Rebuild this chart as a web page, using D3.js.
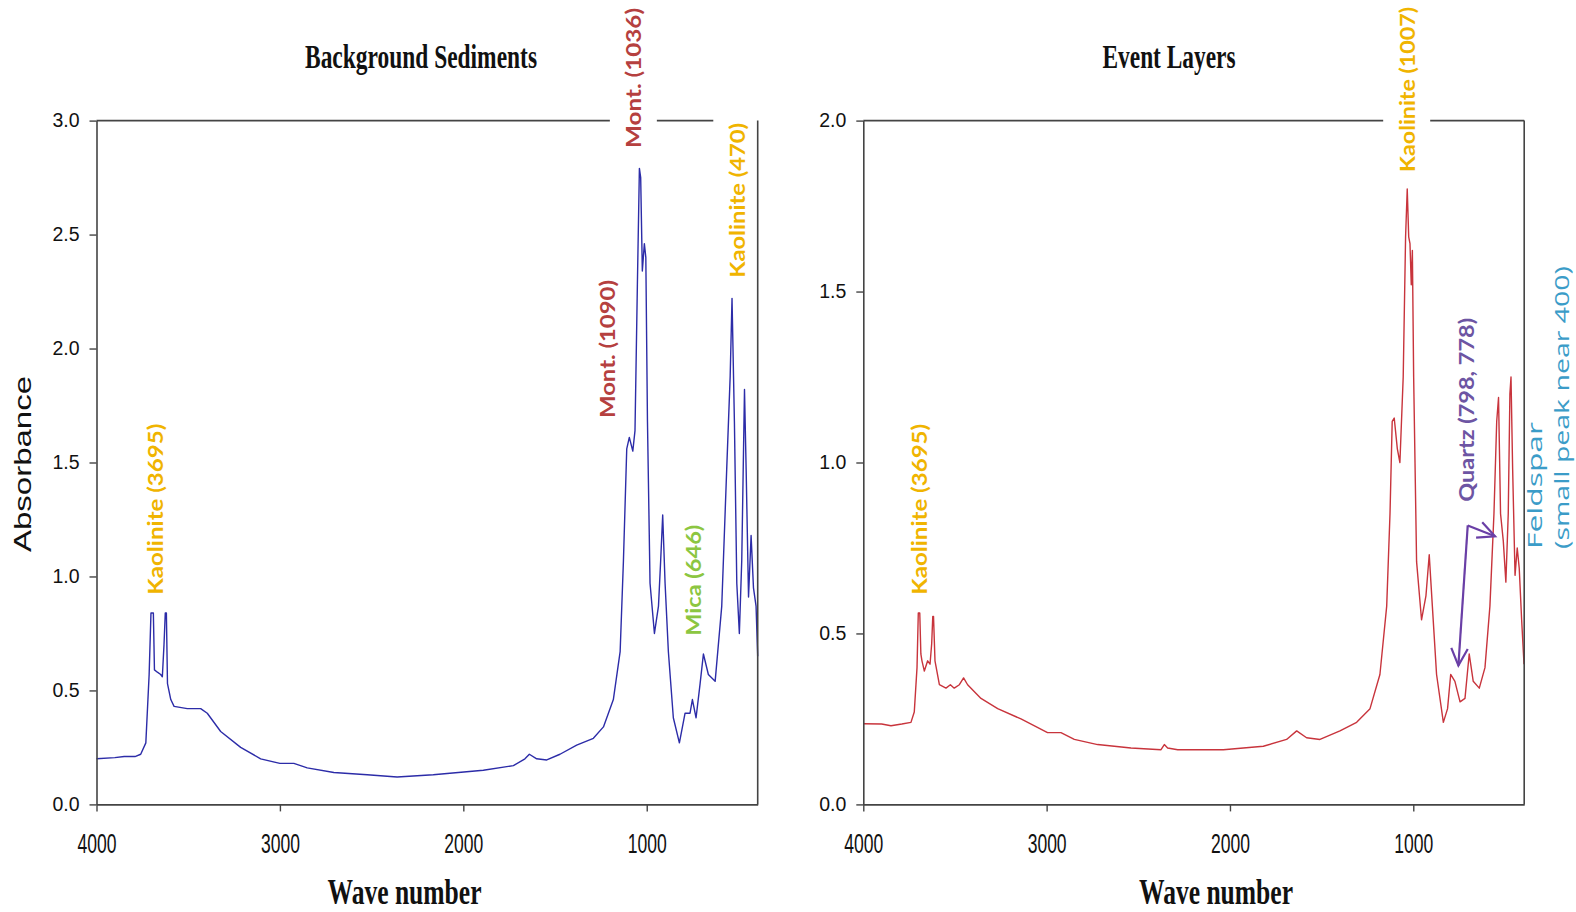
<!DOCTYPE html>
<html>
<head>
<meta charset="utf-8">
<script src="https://cdn.jsdelivr.net/npm/d3@7"></script>
<style>
  body { margin: 0; background: #fff; }
  svg { display: block; }
</style>
</head>
<body>
<div id="chart"></div>
<script>
// spectra: [wave number, absorbance]
const bgSpectrum = [
  [4000, 0.20], [3900, 0.205], [3849, 0.21], [3790, 0.21], [3759, 0.22], [3731, 0.27],
  [3713, 0.57], [3703, 0.84], [3697, 0.84], [3690, 0.84], [3684, 0.59], [3668, 0.58],
  [3650, 0.57], [3641, 0.56], [3632, 0.70], [3625, 0.84], [3619, 0.84], [3613, 0.53],
  [3595, 0.46], [3577, 0.43], [3505, 0.42], [3432, 0.42], [3396, 0.40], [3323, 0.32],
  [3214, 0.25], [3105, 0.20], [3000, 0.18], [2924, 0.18], [2851, 0.16], [2706, 0.14],
  [2524, 0.13], [2361, 0.12], [2164, 0.13], [1891, 0.15], [1727, 0.17], [1664, 0.20],
  [1640, 0.22], [1600, 0.20], [1545, 0.195], [1473, 0.22], [1382, 0.26], [1291, 0.29],
  [1236, 0.34], [1182, 0.46], [1145, 0.67], [1127, 1.07], [1109, 1.56], [1095, 1.61],
  [1076, 1.55], [1064, 1.64], [1051, 2.28], [1040, 2.79], [1033, 2.75], [1024, 2.34],
  [1013, 2.46], [1005, 2.40], [996, 1.68], [982, 0.97], [958, 0.75], [936, 0.87],
  [924, 1.07], [913, 1.27], [900, 0.97], [882, 0.67], [855, 0.38], [822, 0.27],
  [791, 0.40], [764, 0.40], [751, 0.46], [731, 0.38], [709, 0.53], [691, 0.66],
  [664, 0.57], [627, 0.54], [591, 0.87], [564, 1.47], [545, 1.88], [535, 2.22],
  [522, 1.68], [509, 0.97], [495, 0.75], [482, 1.07], [467, 1.82], [458, 1.47],
  [445, 0.91], [431, 1.18], [418, 0.95], [404, 0.87], [395, 0.65]
];

const evSpectrum = [
  [4000, 0.236], [3900, 0.235], [3849, 0.23], [3790, 0.235], [3740, 0.24], [3722, 0.27],
  [3707, 0.40], [3700, 0.56], [3692, 0.56], [3686, 0.44], [3680, 0.42], [3667, 0.39],
  [3649, 0.42], [3636, 0.41], [3627, 0.47], [3621, 0.55], [3617, 0.55], [3609, 0.42],
  [3585, 0.35], [3549, 0.34], [3525, 0.35], [3504, 0.34], [3476, 0.35], [3453, 0.37],
  [3431, 0.35], [3358, 0.31], [3267, 0.28], [3140, 0.25], [2995, 0.21], [2922, 0.21],
  [2849, 0.19], [2722, 0.175], [2540, 0.165], [2376, 0.16], [2358, 0.175], [2340, 0.165],
  [2285, 0.16], [2036, 0.16], [1818, 0.17], [1691, 0.19], [1636, 0.215], [1582, 0.195],
  [1509, 0.19], [1400, 0.215], [1309, 0.24], [1236, 0.28], [1182, 0.38], [1145, 0.58],
  [1127, 0.85], [1115, 1.12], [1104, 1.13], [1087, 1.04], [1073, 1.0], [1055, 1.25],
  [1042, 1.66], [1033, 1.80], [1025, 1.66], [1018, 1.64], [1011, 1.52], [1005, 1.62],
  [998, 1.25], [982, 0.71], [955, 0.54], [931, 0.61], [913, 0.73], [896, 0.58],
  [873, 0.38], [836, 0.24], [813, 0.28], [796, 0.38], [773, 0.36], [745, 0.30],
  [718, 0.31], [695, 0.44], [673, 0.36], [640, 0.34], [609, 0.40], [582, 0.58],
  [560, 0.85], [545, 1.12], [535, 1.19], [524, 0.85], [509, 0.77], [495, 0.65],
  [482, 0.85], [473, 1.20], [467, 1.25], [458, 0.98], [445, 0.67], [433, 0.75],
  [422, 0.69], [409, 0.54], [396, 0.41]
];

const waveTicks = [4000, 3000, 2000, 1000];
const bgAbsTicks = [0, 0.5, 1, 1.5, 2, 2.5, 3];
const evAbsTicks = [0, 0.5, 1, 1.5, 2];

// peak labels: anchored at the lower end of the rotated text
const bgLabels = [
  { text: "Kaolinite (3695)", wave: 3681, abs: 0.92, color: "#f0b400", len: 171 },
  { text: "Mont. (1090)", wave: 1218, abs: 1.695, color: "#b5403f", len: 138 },
  { text: "Mont. (1036)", wave: 1073, abs: 2.88, color: "#b5403f", len: 140, bg: true },
  { text: "Kaolinite (470)", wave: 509, abs: 2.31, color: "#f0b400", len: 155, bg: true },
  { text: "Mica (646)", wave: 746, abs: 0.74, color: "#8cc641", len: 111 }
];
const evLabels = [
  { text: "Kaolinite (3695)", wave: 3695, abs: 0.613, color: "#f0b400", len: 171 },
  { text: "Kaolinite (1007)", wave: 1036, abs: 1.85, color: "#f0b400", len: 165, bg: true },
  { text: "Quartz (798, 778)", wave: 712, abs: 0.885, color: "#6d55a3", len: 184 }
];
const feldsparLines = [
  { text: "Feldspar", wave: 340, abs: 0.747, len: 127 },
  { text: "(small peak near 400)", wave: 193, abs: 0.747, len: 283 }
];
// quartz arrow: corner, then the two tips
const quartzArrow = { from: [703, 0.816], tips: [[754, 0.406], [554, 0.784]] };

const W = 1576, H = 912;
const svg = d3.select("#chart").append("svg").attr("width", W).attr("height", H);

const drawPanel = (p) => {
  const x = d3.scaleLinear().domain([4000, 395]).range(p.xr);
  const y = d3.scaleLinear().domain(p.yd).range([804.4, 120.6]);
  const g = svg.append("g");

  // top frame line (partly hidden by label boxes)
  g.append("line")
    .attr("x1", p.xr[0]).attr("x2", p.xr[1])
    .attr("y1", y(p.yd[1])).attr("y2", y(p.yd[1]))
    .attr("stroke", "#444").attr("stroke-width", 1.6);

  // spectrum
  g.append("path")
    .datum(p.data)
    .attr("fill", "none")
    .attr("stroke", p.color)
    .attr("stroke-width", 1.4)
    .attr("stroke-linejoin", "round")
    .attr("d", d3.line().x(d => x(d[0])).y(d => y(d[1])));

  // rotated peak labels
  p.labels.forEach(l => {
    const lg = g.append("g")
      .attr("transform", `translate(${x(l.wave)},${y(l.abs)}) rotate(-90)`);
    if (l.bg) {
      lg.append("rect")
        .attr("x", -4).attr("y", -23.5)
        .attr("width", l.len + 160).attr("height", 47)
        .attr("fill", "#fff");
    }
    lg.append("text")
      .attr("x", 0).attr("y", 0)
      .attr("dominant-baseline", "central")
      .attr("font-family", "Lato, 'Open Sans', sans-serif")
      .attr("font-weight", 700)
      .attr("font-size", 20)
      .attr("textLength", l.len)
      .attr("lengthAdjust", "spacingAndGlyphs")
      .attr("fill", l.color)
      .text(l.text);
  });

  // axes
  const xAxis = g.append("g")
    .attr("transform", `translate(0,804.4)`)
    .call(d3.axisBottom(x).tickValues(waveTicks).tickFormat(d3.format("d"))
      .tickSize(7).tickSizeOuter(0).tickPadding(22));
  xAxis.selectAll("text")
    .attr("font-family", "'Liberation Sans', Arial, sans-serif")
    .attr("font-size", 28)
    .attr("textLength", 39)
    .attr("lengthAdjust", "spacingAndGlyphs")
    .attr("fill", "#111");

  const yAxis = g.append("g")
    .attr("transform", `translate(${p.xr[0]},0)`)
    .call(d3.axisLeft(y).tickValues(p.ticks).tickFormat(d3.format(".1f"))
      .tickSize(7).tickSizeOuter(0).tickPadding(10));
  yAxis.selectAll("text")
    .attr("font-family", "'Liberation Sans', Arial, sans-serif")
    .attr("font-size", 19.5)
    .attr("fill", "#111");

  [xAxis, yAxis].forEach(a => {
    a.select(".domain").attr("stroke", "#444").attr("stroke-width", 1.6);
    a.selectAll(".tick line").attr("stroke", "#444").attr("stroke-width", 1.4);
  });

  // right frame line
  g.append("line")
    .attr("x1", p.xr[1]).attr("x2", p.xr[1])
    .attr("y1", y(p.yd[1])).attr("y2", 804.4)
    .attr("stroke", "#444").attr("stroke-width", 1.6);

  // titles
  g.append("text")
    .attr("x", p.titleX).attr("y", 68)
    .attr("text-anchor", "middle")
    .attr("font-family", "'Liberation Serif', 'Times New Roman', serif")
    .attr("font-weight", 700)
    .attr("font-size", 33)
    .attr("textLength", p.titleLen)
    .attr("lengthAdjust", "spacingAndGlyphs")
    .attr("fill", "#111")
    .text(p.title);

  g.append("text")
    .attr("x", p.xTitleX).attr("y", 904)
    .attr("text-anchor", "middle")
    .attr("font-family", "'Liberation Serif', 'Times New Roman', serif")
    .attr("font-weight", 700)
    .attr("font-size", 36)
    .attr("textLength", 154)
    .attr("lengthAdjust", "spacingAndGlyphs")
    .attr("fill", "#111")
    .text("Wave number");

  return { x, y, g };
};

const left = drawPanel({
  data: bgSpectrum, color: "#2c2ca8", labels: bgLabels,
  xr: [96.5, 757.7], yd: [0, 3], ticks: bgAbsTicks,
  title: "Background Sediments", titleX: 421, titleLen: 232, xTitleX: 404.5
});

const right = drawPanel({
  data: evSpectrum, color: "#c8343c", labels: evLabels,
  xr: [863.3, 1524.2], yd: [0, 2], ticks: evAbsTicks,
  title: "Event Layers", titleX: 1169, titleLen: 133, xTitleX: 1216
});

// y axis title
svg.append("text")
  .attr("transform", "translate(22,464) rotate(-90)")
  .attr("text-anchor", "middle")
  .attr("dominant-baseline", "central")
  .attr("font-family", "'Liberation Sans', Arial, sans-serif")
  .attr("font-size", 24)
  .attr("textLength", 176)
  .attr("lengthAdjust", "spacingAndGlyphs")
  .attr("fill", "#111")
  .text("Absorbance");

// feldspar note
feldsparLines.forEach(l => {
  right.g.append("text")
    .attr("transform", `translate(${right.x(l.wave)},${right.y(l.abs)}) rotate(-90)`)
    .attr("dominant-baseline", "central")
    .attr("font-family", "'Open Sans', sans-serif")
    .attr("font-size", 20)
    .attr("textLength", l.len)
    .attr("lengthAdjust", "spacingAndGlyphs")
    .attr("fill", "#3b9cc8")
    .text(l.text);
});

// quartz arrows
const [fx, fy] = [right.x(quartzArrow.from[0]), right.y(quartzArrow.from[1])];
quartzArrow.tips.forEach(t => {
  const tx = right.x(t[0]), ty = right.y(t[1]);
  const ang = Math.atan2(ty - fy, tx - fx);
  const head = 19, spread = Math.PI / 7;
  const pts = [
    [tx - head * Math.cos(ang - spread), ty - head * Math.sin(ang - spread)],
    [tx, ty],
    [tx - head * Math.cos(ang + spread), ty - head * Math.sin(ang + spread)]
  ];
  right.g.append("line")
    .attr("x1", fx).attr("y1", fy).attr("x2", tx).attr("y2", ty)
    .attr("stroke", "#6a3fa6").attr("stroke-width", 2.2);
  right.g.append("path")
    .attr("d", d3.line()(pts))
    .attr("fill", "none")
    .attr("stroke", "#6a3fa6").attr("stroke-width", 2.2)
    .attr("stroke-linejoin", "miter");
});
</script>
</body>
</html>
